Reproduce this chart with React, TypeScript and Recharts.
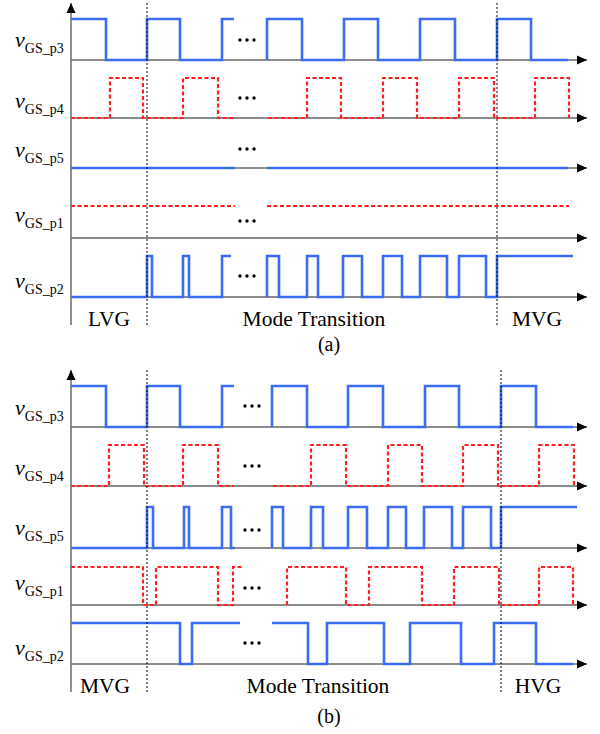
import React from "react";
import { ComposedChart, Line, XAxis, YAxis, ReferenceLine, ReferenceDot } from "recharts";

// each segment: [start, end, level at start, ...edge times]
type Seg = number[];

const signalNames = ["p3", "p4", "p5", "p1", "p2"];
const signalColors = ["#3a6cf4", "#ff1f1f", "#3a6cf4", "#ff1f1f", "#3a6cf4"];

// (a) LVG -> MVG
const aP3: Seg[] = [[0, 163, 1, 35, 76, 109, 151], [196, 497, 0, 196, 231, 273, 307, 349, 384, 426, 460]];
const aP4: Seg[] = [[0, 163, 0, 39, 72, 112, 147], [197, 498, 0, 236, 270, 312, 346, 388, 423, 464, 498]];
const aP5: Seg[] = [[0, 164, 0], [196, 497, 0]];
const aP1: Seg[] = [[0, 164, 1], [196, 498, 1]];
const aP2: Seg[] = [
  [0, 160, 0, 76, 81, 112, 118, 151],
  [196, 502, 0, 196, 208, 236, 247, 272, 291, 312, 331, 349, 376, 388, 415, 426],
];
const aPhases = ["LVG", "Mode Transition", "MVG"];
const aPhaseAt = [38, 243, 466];
const aBounds = [76, 426];

// (b) MVG -> HVG
const bP3: Seg[] = [[0, 163, 1, 35, 76, 109, 151], [201, 502, 0, 201, 236, 277, 312, 354, 388, 430, 465]];
const bP4: Seg[] = [[0, 163, 0, 38, 73, 112, 147], [202, 503, 0, 240, 275, 317, 351, 392, 427, 468, 503]];
const bP5: Seg[] = [
  [0, 164, 0, 76, 82, 113, 118, 151, 160],
  [201, 506, 0, 201, 212, 240, 252, 277, 296, 317, 335, 353, 381, 392, 420, 430],
];
const bP1: Seg[] = [[0, 171, 1, 72, 85, 147, 162], [216, 504, 0, 216, 275, 298, 351, 383, 428, 468, 502]];
const bP2: Seg[] = [[0, 169, 1, 109, 121], [201, 502, 1, 237, 256, 313, 339, 390, 423, 465]];
const bPhases = ["MVG", "Mode Transition", "HVG"];
const bPhaseAt = [34, 247, 467];
const bBounds = [76, 430];

// row layout: [baseline, high level]
const aRows = [[60, 19], [118, 78], [168, 127], [238, 206], [297, 256]];
const bRows = [[60, 19], [119, 78], [181, 140], [238, 200], [297, 256]];
const aLabelY = [47, 108, 157, 222, 288];
const bLabelY = [48, 108, 168, 223, 288];
const aDotsY = [40, 98, 149, 221, 276];
const bDotsY = [39, 99, 163, 221, 276];

const SERIF = "'Liberation Serif', 'Times New Roman', serif";
const T_MAX = 516;

function toPoints(segs: Seg[], row: number[]) {
  const [base, high] = row;
  const pts: { t: number; v: number | null }[] = [];
  segs.forEach(([start, end, init, ...edges]) => {
    let lvl = init;
    pts.push({ t: start, v: lvl ? high : base });
    edges.forEach((e) => {
      lvl = 1 - lvl;
      pts.push({ t: e, v: lvl ? high : base });
    });
    pts.push({ t: end, v: lvl ? high : base });
    pts.push({ t: end + 0.5, v: null });
  });
  return pts;
}

const SigTick = (props: any) => {
  const { y, index } = props;
  return (
    <text x={15} y={y} fill="#000" fontFamily={SERIF}>
      <tspan fontStyle="italic" fontSize={22}>v</tspan>
      <tspan fontSize={14} dy={6}>{"GS_" + signalNames[index]}</tspan>
    </text>
  );
};

const rightArrow = (p: any) => <path d={`M${p.cx},${p.cy} l-10,-4.5 l0,9 z`} fill="#000" />;
const upArrow = (p: any) => <path d={`M${p.cx},${p.cy} l-4.5,10 l9,0 z`} fill="#000" />;
const ellipsis = (p: any) => (
  <g fill="#000">
    <circle cx={p.cx - 7} cy={p.cy} r={1.7} />
    <circle cx={p.cx} cy={p.cy} r={1.7} />
    <circle cx={p.cx + 7} cy={p.cy} r={1.7} />
  </g>
);

type PanelProps = {
  sigs: Seg[][];
  rows: number[][];
  labelY: number[];
  dotsY: number[];
  dotsT: number;
  phases: string[];
  phaseAt: number[];
  bounds: number[];
};

const Panel: React.FC<PanelProps> = ({ sigs, rows, labelY, dotsY, dotsT, phases, phaseAt, bounds }) => (
  <ComposedChart width={600} height={330} margin={{ top: 3, right: 13, bottom: 5, left: 0 }}>
    <XAxis type="number" dataKey="t" domain={[0, T_MAX]} hide allowDataOverflow />
    <YAxis
      type="number"
      domain={[3, 325]}
      reversed
      width={71}
      ticks={labelY}
      interval={0}
      tick={<SigTick />}
      tickLine={false}
      axisLine={{ stroke: "#6b6b6b", strokeWidth: 1.5 }}
      allowDataOverflow
    />
    {rows.map((r, i) => (
      <ReferenceLine key={"base" + i} y={r[0]} stroke="#666" strokeWidth={1.5} />
    ))}
    {rows.map((r, i) => (
      <ReferenceDot key={"arr" + i} x={T_MAX} y={r[0]} shape={rightArrow} />
    ))}
    <ReferenceDot x={0} y={3} shape={upArrow} />
    {sigs.map((segs, i) => (
      <Line
        key={"sig" + i}
        data={toPoints(segs, rows[i])}
        dataKey="v"
        type="stepAfter"
        stroke={signalColors[i]}
        strokeWidth={i % 2 ? 2.2 : 2.6}
        strokeDasharray={i % 2 ? "4 2.5" : undefined}
        dot={false}
        activeDot={false}
        connectNulls={false}
        isAnimationActive={false}
      />
    ))}
    {bounds.map((b) => (
      <ReferenceLine key={"b" + b} x={b} stroke="#000" strokeWidth={1} strokeDasharray="2 2" />
    ))}
    {dotsY.map((y, i) => (
      <ReferenceDot key={"dots" + i} x={dotsT} y={y} shape={ellipsis} />
    ))}
    {phases.map((name, i) => (
      <ReferenceDot
        key={name}
        x={phaseAt[i]}
        y={318}
        shape={(p: any) => (
          <text x={p.cx} y={p.cy} dy="0.35em" textAnchor="middle" fontSize={21.5} fontFamily={SERIF} fill="#000">
            {name}
          </text>
        )}
      />
    ))}
  </ComposedChart>
);

const Caption = ({ text, top }: { text: string; top: number }) => (
  <div
    style={{
      position: "absolute",
      left: 329,
      top,
      transform: "translateX(-50%)",
      fontFamily: SERIF,
      fontSize: 20,
      lineHeight: "20px",
    }}
  >
    {text}
  </div>
);

export default function App() {
  return (
    <div style={{ position: "absolute", left: 0, top: 0, width: 600, height: 734, background: "#fff" }}>
      <div style={{ position: "absolute", left: 0, top: 0 }}>
        <Panel
          sigs={[aP3, aP4, aP5, aP1, aP2]}
          rows={aRows}
          labelY={aLabelY}
          dotsY={aDotsY}
          dotsT={176}
          phases={aPhases}
          phaseAt={aPhaseAt}
          bounds={aBounds}
        />
      </div>
      <Caption text="(a)" top={334} />
      <div style={{ position: "absolute", left: 0, top: 367 }}>
        <Panel
          sigs={[bP3, bP4, bP5, bP1, bP2]}
          rows={bRows}
          labelY={bLabelY}
          dotsY={bDotsY}
          dotsT={181}
          phases={bPhases}
          phaseAt={bPhaseAt}
          bounds={bBounds}
        />
      </div>
      <Caption text="(b)" top={706} />
    </div>
  );
}
